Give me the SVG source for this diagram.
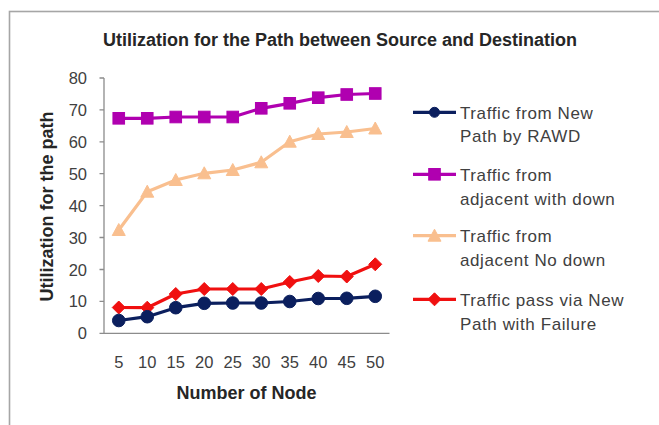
<svg xmlns="http://www.w3.org/2000/svg" xmlns:xlink="http://www.w3.org/1999/xlink" width="659" height="425" viewBox="0 0 659 425">
  <style>
    .title { font-family: "Liberation Sans", Arial, sans-serif; font-weight: bold; font-size: 18px; fill: #262626; }
    .tick { font-family: "Liberation Sans", Arial, sans-serif; font-size: 16.5px; fill: #404040; }
    .axis { stroke: #8c8c8c; stroke-width: 1.3; fill: none; }
    .series { fill: none; stroke-width: 3.2; stroke-linejoin: round; }
    .navy { stroke: #0b1f5e; fill: #0b1f5e; }
    .magenta { stroke: #b000b0; fill: #b000b0; }
    .peach { stroke: #f9bf8f; fill: #f9bf8f; }
    .red { stroke: #f01010; fill: #f01010; }
    text.legend { font-family: "Liberation Sans", Arial, sans-serif; font-size: 17px; letter-spacing: 0.6px; fill: #404040; stroke: none; }
  </style>
  <defs>
    <circle id="mk-circle" r="6.3"/>
    <circle id="mk-circle-small" r="5"/>
    <rect id="mk-square" x="-5.8" y="-5.8" width="11.6" height="11.6"/>
    <polygon id="mk-triangle" points="0,-6.5 6.5,5.5 -6.5,5.5"/>
    <polygon id="mk-diamond" points="0,-6.5 6.5,0 0,6.5 -6.5,0"/>
  </defs>

  <rect width="659" height="425" fill="#ffffff"/>
  <!-- chart frame -->
  <rect x="9.5" y="11.5" width="670" height="440" fill="none" stroke="#a6a6a6" stroke-width="1.6"/>

  <text class="title" x="340" y="46" text-anchor="middle">Utilization for the Path between Source and Destination</text>

  <!-- axes -->
  <g id="axes">
    <path class="axis" d="M104,78 V333.3 H389.5"/>
    <path class="axis" d="M99.5,78 H104 M99.5,109.9 H104 M99.5,141.8 H104 M99.5,173.7 H104 M99.5,205.6 H104 M99.5,237.5 H104 M99.5,269.5 H104 M99.5,301.4 H104 M99.5,333.3 H104"/>
    <g class="tick" text-anchor="end">
      <text x="87" y="84">80</text>
      <text x="87" y="115.9">70</text>
      <text x="87" y="147.8">60</text>
      <text x="87" y="179.7">50</text>
      <text x="87" y="211.6">40</text>
      <text x="87" y="243.5">30</text>
      <text x="87" y="275.5">20</text>
      <text x="87" y="307.4">10</text>
      <text x="87" y="339.3">0</text>
    </g>
    <g class="tick" text-anchor="middle">
      <text x="118.75" y="368">5</text>
      <text x="147.25" y="368">10</text>
      <text x="175.75" y="368">15</text>
      <text x="204.25" y="368">20</text>
      <text x="232.75" y="368">25</text>
      <text x="261.25" y="368">30</text>
      <text x="289.75" y="368">35</text>
      <text x="318.25" y="368">40</text>
      <text x="346.75" y="368">45</text>
      <text x="375.25" y="368">50</text>
    </g>
    <text class="title" x="246.5" y="398.5" text-anchor="middle">Number of Node</text>
    <text class="title" transform="translate(52.5,206.5) rotate(-90)" text-anchor="middle">Utilization for the path</text>
  </g>

  <!-- data series -->
  <g id="series-adjacent-no-down" class="peach">
    <polyline class="series" points="118.75,230 147.25,191.7 175.75,180 204.25,173.3 232.75,170 261.25,162.3 289.75,141.7 318.25,134 346.75,132 375.25,128.5"/>
    <use xlink:href="#mk-triangle" x="118.75" y="230"/>
    <use xlink:href="#mk-triangle" x="147.25" y="191.7"/>
    <use xlink:href="#mk-triangle" x="175.75" y="180"/>
    <use xlink:href="#mk-triangle" x="204.25" y="173.3"/>
    <use xlink:href="#mk-triangle" x="232.75" y="170"/>
    <use xlink:href="#mk-triangle" x="261.25" y="162.3"/>
    <use xlink:href="#mk-triangle" x="289.75" y="141.7"/>
    <use xlink:href="#mk-triangle" x="318.25" y="134"/>
    <use xlink:href="#mk-triangle" x="346.75" y="132"/>
    <use xlink:href="#mk-triangle" x="375.25" y="128.5"/>
  </g>
  <g id="series-adjacent-with-down" class="magenta">
    <polyline class="series" points="118.75,118.3 147.25,118.3 175.75,117 204.25,117 232.75,117 261.25,108.3 289.75,103.3 318.25,97.7 346.75,94.5 375.25,93.5"/>
    <use xlink:href="#mk-square" x="118.75" y="118.3"/>
    <use xlink:href="#mk-square" x="147.25" y="118.3"/>
    <use xlink:href="#mk-square" x="175.75" y="117"/>
    <use xlink:href="#mk-square" x="204.25" y="117"/>
    <use xlink:href="#mk-square" x="232.75" y="117"/>
    <use xlink:href="#mk-square" x="261.25" y="108.3"/>
    <use xlink:href="#mk-square" x="289.75" y="103.3"/>
    <use xlink:href="#mk-square" x="318.25" y="97.7"/>
    <use xlink:href="#mk-square" x="346.75" y="94.5"/>
    <use xlink:href="#mk-square" x="375.25" y="93.5"/>
  </g>
  <g id="series-pass-with-failure" class="red">
    <polyline class="series" points="118.75,307.5 147.25,307.7 175.75,294 204.25,289 232.75,289 261.25,289 289.75,282 318.25,276 346.75,276.5 375.25,264.3"/>
    <use xlink:href="#mk-diamond" x="118.75" y="307.5"/>
    <use xlink:href="#mk-diamond" x="147.25" y="307.7"/>
    <use xlink:href="#mk-diamond" x="175.75" y="294"/>
    <use xlink:href="#mk-diamond" x="204.25" y="289"/>
    <use xlink:href="#mk-diamond" x="232.75" y="289"/>
    <use xlink:href="#mk-diamond" x="261.25" y="289"/>
    <use xlink:href="#mk-diamond" x="289.75" y="282"/>
    <use xlink:href="#mk-diamond" x="318.25" y="276"/>
    <use xlink:href="#mk-diamond" x="346.75" y="276.5"/>
    <use xlink:href="#mk-diamond" x="375.25" y="264.3"/>
  </g>
  <g id="series-new-path-rawd" class="navy">
    <polyline class="series" points="118.75,320.5 147.25,316.7 175.75,307.7 204.25,303.3 232.75,303 261.25,303 289.75,301.5 318.25,298.5 346.75,298.3 375.25,296.3"/>
    <use xlink:href="#mk-circle" x="118.75" y="320.5"/>
    <use xlink:href="#mk-circle" x="147.25" y="316.7"/>
    <use xlink:href="#mk-circle" x="175.75" y="307.7"/>
    <use xlink:href="#mk-circle" x="204.25" y="303.3"/>
    <use xlink:href="#mk-circle" x="232.75" y="303"/>
    <use xlink:href="#mk-circle" x="261.25" y="303"/>
    <use xlink:href="#mk-circle" x="289.75" y="301.5"/>
    <use xlink:href="#mk-circle" x="318.25" y="298.5"/>
    <use xlink:href="#mk-circle" x="346.75" y="298.3"/>
    <use xlink:href="#mk-circle" x="375.25" y="296.3"/>
  </g>

  <!-- legend -->
  <g id="legend">
    <g id="legend-new-path-rawd" class="navy">
      <line class="series" x1="413" y1="112.3" x2="456" y2="112.3"/>
      <use xlink:href="#mk-circle-small" x="434.5" y="112.3"/>
      <text class="legend" x="460" y="119">Traffic from New</text>
      <text class="legend" x="460" y="142.3">Path by RAWD</text>
    </g>
    <g id="legend-adjacent-with-down" class="magenta">
      <line class="series" x1="413" y1="174.3" x2="456" y2="174.3"/>
      <use xlink:href="#mk-square" x="434.5" y="174.3"/>
      <text class="legend" x="460" y="180.5">Traffic from</text>
      <text class="legend" x="460" y="204.5">adjacent with down</text>
    </g>
    <g id="legend-adjacent-no-down" class="peach">
      <line class="series" x1="413" y1="235.7" x2="456" y2="235.7"/>
      <use xlink:href="#mk-triangle" x="434.5" y="235.7"/>
      <text class="legend" x="460" y="242">Traffic from</text>
      <text class="legend" x="460" y="266">adjacent No down</text>
    </g>
    <g id="legend-pass-with-failure" class="red">
      <line class="series" x1="413" y1="299.3" x2="456" y2="299.3"/>
      <use xlink:href="#mk-diamond" x="434.5" y="299.3"/>
      <text class="legend" x="460" y="306">Traffic pass via New</text>
      <text class="legend" x="460" y="330">Path with Failure</text>
    </g>
  </g>
</svg>
